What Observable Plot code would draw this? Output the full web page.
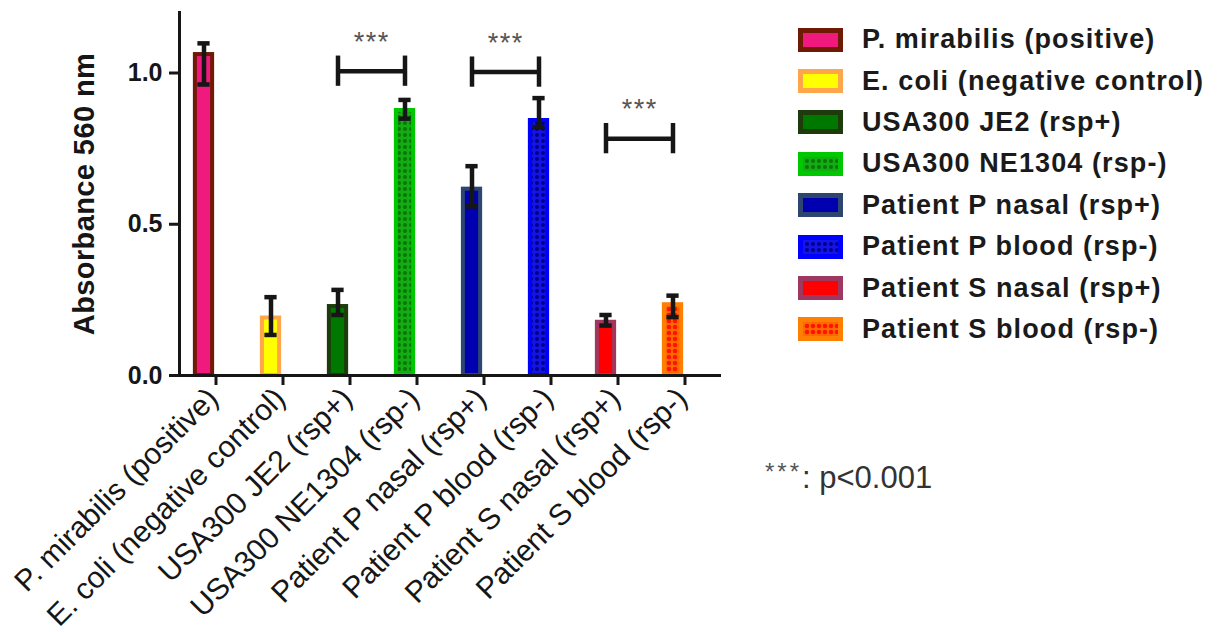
<!DOCTYPE html>
<html>
<head>
<meta charset="utf-8">
<script src="https://cdn.jsdelivr.net/npm/d3@7"></script>
<script src="https://cdn.jsdelivr.net/npm/@observablehq/plot@0.6"></script>
<style>
  body { margin: 0; background: #fff; font-family: "Liberation Sans", Arial, sans-serif; }
  #wrap { position: relative; width: 1222px; height: 632px; overflow: hidden; }
  #legend { position: absolute; left: 798px; top: 19px; }
  .row { display: flex; align-items: center; height: 41.4px; }
  .row svg { margin-right: 19px; flex: none; }
  .lab { font-size: 27px; font-weight: bold; letter-spacing: 1.1px; color: #1a1a1a; white-space: nowrap; }
  #note { position: absolute; left: 765px; top: 462px; font-size: 31px; line-height: 1; color: #333; white-space: nowrap; }
  #note .st { font-size: 24px; color: #555; position: relative; top: -8px; letter-spacing: 3px; }
  [aria-label="y-axis label"] text { font-size: 29px; letter-spacing: 0.4px; }
  g[aria-label="text"] text { letter-spacing: 1.5px; }
</style>
</head>
<body>
<svg width="0" height="0" style="position:absolute">
  <defs>
    <pattern id="patGreen" patternUnits="userSpaceOnUse" width="6" height="6">
      <rect width="6" height="6" fill="#12ad12"></rect>
      <circle cx="3" cy="3" r="2" fill="#0a760a"></circle>
    </pattern>
    <pattern id="patBlue" patternUnits="userSpaceOnUse" width="6" height="6">
      <rect width="6" height="6" fill="#1414e6"></rect>
      <circle cx="3" cy="3" r="2" fill="#00008a"></circle>
    </pattern>
    <pattern id="patOrange" patternUnits="userSpaceOnUse" width="6" height="6">
      <rect width="6" height="6" fill="#ff6a00"></rect>
      <circle cx="3" cy="3" r="2.3" fill="#ff1400"></circle>
    </pattern>
  </defs>
</svg>
<div id="wrap">
  <div id="chart"></div>
  <div id="legend"></div>
  <div id="note"></div>
</div>
<script>
// ---------- data ----------
const categories = [
  "P. mirabilis (positive)",
  "E. coli (negative control)",
  "USA300 JE2 (rsp+)",
  "USA300 NE1304 (rsp-)",
  "Patient P nasal (rsp+)",
  "Patient P blood (rsp-)",
  "Patient S nasal (rsp+)",
  "Patient S blood (rsp-)"
];
const means   = [1.061, 0.190, 0.228, 0.876, 0.616, 0.843, 0.176, 0.234];
const errLow  = [0.962, 0.134, 0.200, 0.849, 0.559, 0.821, 0.165, 0.193];
const errHigh = [1.098, 0.259, 0.283, 0.911, 0.692, 0.917, 0.200, 0.264];
const barFill   = ["#f0197d", "#ffff00", "#007800", "url(#patGreen)", "#0000b0", "url(#patBlue)", "#ff0000", "url(#patOrange)"];
const barStroke = ["#6e1a05", "#ffa54a", "#1e3b0c", "#00c800", "#2d4670", "#0000ff", "#9e3860", "#ff8000"];
const yTicks = [0, 0.5, 1.0];
const yLabel = "Absorbance 560 nm";
const bracketFrom  = ["USA300 JE2 (rsp+)", "Patient P nasal (rsp+)", "Patient S nasal (rsp+)"];
const bracketTo    = ["USA300 NE1304 (rsp-)", "Patient P blood (rsp-)", "Patient S blood (rsp-)"];
const bracketY     = [1.006, 1.003, 0.783];
const bracketLabel = ["***", "***", "***"];
const noteStars = "***";
const noteText = ": p<0.001";

// ---------- build ----------
const data = categories.map((c, i) => ({cat: c, mean: means[i], lo: errLow[i], hi: errHigh[i], fill: barFill[i], stroke: barStroke[i]}));
const brackets = bracketFrom.map((f, i) => ({from: f, to: bracketTo[i], y: bracketY[i], label: bracketLabel[i]}));
const bracketEnds = brackets.flatMap(b => [{cat: b.from, y: b.y}, {cat: b.to, y: b.y}]);

const W = 1222, H = 632, mL = 179, mR = 501, mT = 12, mB = 257;
const bw = (W - mL - mR) / categories.length;
const off = -12;
const capH = 0.05;
const ink = "#161616";

const chart = Plot.plot({
  width: W, height: H,
  marginLeft: mL, marginRight: mR, marginTop: mT, marginBottom: mB,
  style: {fontFamily: "'Liberation Sans', Arial, sans-serif", background: "transparent", overflow: "visible"},
  x: {domain: categories, padding: 0, label: null},
  y: {domain: [0, 1.2], label: yLabel},
  color: {type: "identity"},
  marks: [
    Plot.barY(data, {x: "cat", y: "mean", fill: d => d.fill, stroke: d => d.stroke, strokeWidth: 4,
      insetLeft: (bw - 18) / 2, insetRight: (bw - 18) / 2, dx: off}),
    Plot.ruleX(data, {x: "cat", y1: "lo", y2: "hi", stroke: ink, strokeWidth: 4.5, dx: off}),
    Plot.tickY(data, {x: "cat", y: "lo", stroke: ink, strokeWidth: 4.5, insetLeft: (bw - 13) / 2, insetRight: (bw - 13) / 2, dx: off}),
    Plot.tickY(data, {x: "cat", y: "hi", stroke: ink, strokeWidth: 4.5, insetLeft: (bw - 13) / 2, insetRight: (bw - 13) / 2, dx: off}),
    Plot.link(brackets, {x1: "from", x2: "to", y1: "y", y2: "y", stroke: ink, strokeWidth: 4.5, dx: off}),
    Plot.ruleX(bracketEnds, {x: "cat", y1: d => d.y - capH, y2: d => d.y + capH, stroke: ink, strokeWidth: 4.5, dx: off}),
    Plot.text(brackets, {x: "from", y: "y", text: "label", dx: off + bw / 2, dy: -29, fontSize: 27, fill: "#555"}),
    Plot.ruleY([0], {stroke: ink, strokeWidth: 3, insetLeft: -8}),
    Plot.frame({anchor: "left", stroke: ink, strokeWidth: 3}),
    Plot.axisY({ticks: yTicks, tickFormat: d3.format(".1f"), tickSize: 10, tickPadding: 7, strokeWidth: 3,
      color: ink, fontSize: 25, fontWeight: "bold", label: yLabel, labelAnchor: "center", labelArrow: "none", labelOffset: 106}),
    Plot.axisX({tickSize: 10, tickFormat: () => "", strokeWidth: 3, color: ink, label: null}),
    Plot.axisX({tickSize: 0, tickPadding: 18, tickRotate: -45, fontSize: 30, color: ink, dx: -3, label: null})
  ]
});
document.getElementById("chart").appendChild(chart);

// legend
const legend = d3.select("#legend");
categories.forEach((c, i) => {
  const row = legend.append("div").attr("class", "row");
  const s = row.append("svg").attr("width", 45).attr("height", 24);
  s.append("rect").attr("x", 2.5).attr("y", 2.5).attr("width", 40).attr("height", 19)
    .attr("fill", barFill[i]).attr("stroke", barStroke[i]).attr("stroke-width", 5);
  row.append("span").attr("class", "lab").text(c);
});

// note
const note = d3.select("#note");
note.append("span").attr("class", "st").text(noteStars);
note.append("span").text(noteText);
</script>
</body>
</html>
